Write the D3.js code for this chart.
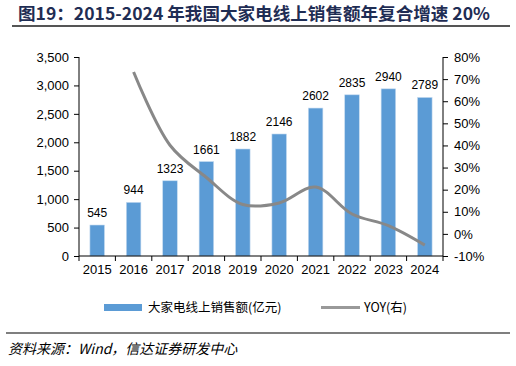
<!DOCTYPE html>
<html><head><meta charset="utf-8">
<script src="https://cdn.jsdelivr.net/npm/d3@7"></script>
<style>body{margin:0;background:#fff}svg{display:block}</style>
</head><body>
<svg id="c" width="516" height="366"></svg>
<script>
const categories = ["2015","2016","2017","2018","2019","2020","2021","2022","2023","2024"];
const sales = [545,944,1323,1661,1882,2146,2602,2835,2940,2789];
const yoy = [null,73.2,40.1,25.5,13.3,14.0,21.2,9.0,3.7,-5.1];
const leftTicks = [0,500,1000,1500,2000,2500,3000,3500];
const rightTicks = [-10,0,10,20,30,40,50,60,70,80];

const svg = d3.select("#c");
const L=79, R=443, T=57, B=256;
const x = d3.scaleBand().domain(categories).range([L,R]).paddingInner(0.6).paddingOuter(0.3);
const xb = d3.scaleBand().domain(categories).range([L,R]);
const yL = d3.scaleLinear().domain([0,3500]).range([B,T]);
const yR = d3.scaleLinear().domain([-10,80]).range([B,T]);

// title
svg.append("text").attr("x",18).attr("y",19.5).attr("fill","#1f2d54")
  .attr("font-family","'Noto Sans CJK SC','Liberation Sans',sans-serif").attr("font-weight",700)
  .attr("font-size",17).attr("textLength",472).attr("lengthAdjust","spacingAndGlyphs")
  .text("图19：2015-2024 年我国大家电线上销售额年复合增速 20%");
svg.append("line").attr("x1",12).attr("x2",510).attr("y1",26).attr("y2",26).attr("stroke","#555").attr("stroke-width",2);

// bars
svg.selectAll("rect.bar").data(sales).join("rect").attr("class","bar")
  .attr("x",(d,i)=>x(categories[i])).attr("width",x.bandwidth())
  .attr("y",d=>yL(d)).attr("height",d=>B-yL(d)).attr("fill","#5b9bd5").attr("stroke","#c5dbf0").attr("stroke-width",0.6);
svg.selectAll("text.lbl").data(sales).join("text").attr("class","lbl")
  .attr("x",(d,i)=>x(categories[i])+x.bandwidth()/2).attr("y",d=>yL(d)-8)
  .attr("text-anchor","middle").attr("font-family","'Liberation Sans',Arial,sans-serif").attr("font-size",12).attr("fill","#000").text(d=>d);

// line
const pts = yoy.map((v,i)=>v==null?null:[xb(categories[i])+xb.bandwidth()/2, yR(v)]).filter(p=>p);
svg.append("path").attr("d",d3.line().curve(d3.curveCatmullRom.alpha(0.5))(pts))
  .attr("fill","none").attr("stroke","#888").attr("stroke-width",3);

const ff="'Liberation Sans',Arial,sans-serif";
const gl = svg.append("g").attr("transform",`translate(${L},0)`)
  .call(d3.axisLeft(yL).tickValues(leftTicks).tickSize(5).tickPadding(5).tickFormat(d3.format(",")));
const gr = svg.append("g").attr("transform",`translate(${R},0)`)
  .call(d3.axisRight(yR).tickValues(rightTicks).tickSize(5).tickPadding(6).tickFormat(d=>d+"%"));
const gx = svg.append("g").attr("transform",`translate(0,${B})`)
  .call(d3.axisBottom(xb).tickSize(0).tickPadding(9));
gx.selectAll(".tick line").remove();
const bounds = categories.map(c=>xb(c)).concat([R]);
gx.selectAll("line.bt").data(bounds).join("line").attr("class","bt")
  .attr("x1",d=>d).attr("x2",d=>d).attr("y1",0).attr("y2",5).attr("stroke","#000");
[gl,gr,gx].forEach(g=>{
  g.selectAll(".domain").attr("stroke","#000");
  g.selectAll("text").attr("font-family",ff).attr("font-size",13).attr("fill","#000");
  g.selectAll(".tick line").attr("stroke","#000");
});
gl.select(".domain").attr("d",`M0,${T}V${B}`);
gr.select(".domain").attr("d",`M0,${T}V${B}`);
gx.select(".domain").attr("d",`M${L},0H${R}`);

// legend
const lf="'Noto Sans CJK SC',sans-serif";
svg.append("rect").attr("x",104).attr("y",304).attr("width",38).attr("height",7).attr("fill","#5b9bd5");
svg.append("text").attr("x",148).attr("y",312).attr("font-family",lf).attr("font-size",12.5).text("大家电线上销售额(亿元)");
svg.append("line").attr("x1",321).attr("x2",360).attr("y1",307.5).attr("y2",307.5).attr("stroke","#999").attr("stroke-width",3);
svg.append("text").attr("x",364).attr("y",312).attr("font-family",lf).attr("font-size",12.5).text("YOY(右)");

// source
svg.append("line").attr("x1",6).attr("x2",510).attr("y1",333).attr("y2",333).attr("stroke","#555").attr("stroke-width",1.5);
svg.append("text").attr("x",8).attr("y",354).attr("font-family",lf).attr("font-style","italic").attr("font-size",14).text("资料来源：Wind，信达证券研发中心");
</script>
</body></html>
